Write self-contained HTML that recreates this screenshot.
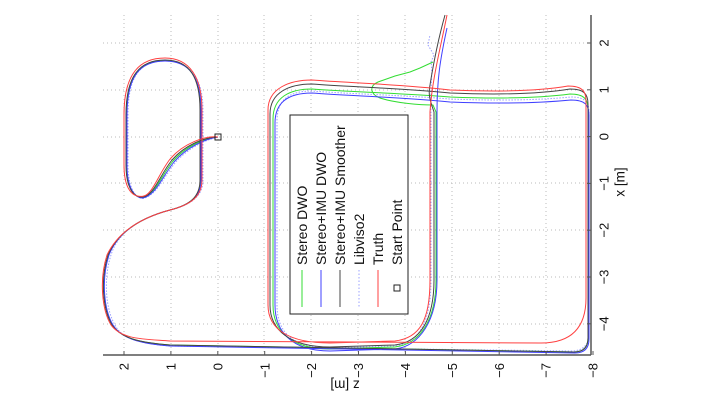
<!DOCTYPE html>
<html><head><meta charset="utf-8"><style>
html,body{margin:0;padding:0;background:#fff;}
svg{display:block;font-family:"Liberation Sans",sans-serif;}
</style></head><body>
<svg id="s" width="720" height="405" viewBox="0 0 720 405" xmlns="http://www.w3.org/2000/svg">
<g id="grid" stroke="#bbb" stroke-width="1" stroke-dasharray="1,3"></g>
<g id="series" fill="none" stroke-width="1"></g>
<rect x="215" y="134" width="6" height="6" fill="none" stroke="#222" stroke-width="1"/>
<g id="axes" stroke="#555" stroke-width="1.5"><line x1="103" y1="355" x2="591" y2="355"/><line x1="591" y1="15" x2="591" y2="355"/></g>
<g id="ticks" stroke="#555" stroke-width="1"></g>
<g id="labels" font-size="13" fill="#111"></g>
<text transform="translate(345,385) rotate(180)" text-anchor="middle" dy="0.35em" font-size="13.5" fill="#111">z [m]</text>
<text transform="translate(620,182) rotate(-90)" text-anchor="middle" dy="0.35em" font-size="13.5" fill="#111">x [m]</text>
<g id="legend">
<rect x="290" y="115" width="118" height="199" fill="#fff" stroke="#222" stroke-width="1"/>
</g>
</svg>
<script>
var NS="http://www.w3.org/2000/svg";
function el(p,t,a,txt){var e=document.createElementNS(NS,t);for(var k in a)e.setAttribute(k,a[k]);if(txt)e.textContent=txt;document.getElementById(p).appendChild(e);return e;}
var xs=[124,171,218,264,311,358,405,452,499,546],ys=[43,90,137,183,230,277,324];
xs.forEach(function(x){el("grid","line",{x1:x,y1:15,x2:x,y2:355});});
ys.forEach(function(y){el("grid","line",{x1:103,y1:y,x2:591,y2:y});});
var zl=["2","1","0","\u22121","\u22122","\u22123","\u22124","\u22125","\u22126","\u22127","\u22128"];
zl.forEach(function(t,i){var x=124+i*46.9;el("ticks","line",{x1:x,y1:355,x2:x,y2:351});
 el("labels","text",{transform:"translate("+x+",363) rotate(-90)","text-anchor":"end",dy:"0.35em"},t);});
var xl=["2","1","0","\u22121","\u22122","\u22123","\u22124"];
xl.forEach(function(t,i){var y=43+i*46.8;el("ticks","line",{x1:591,y1:y,x2:587,y2:y});
 el("labels","text",{transform:"translate(604,"+y+") rotate(-90)","text-anchor":"middle",dy:"0.35em"},t);});
function P(o){
 var R=o.R,T=o.T,cr=o.cr,l=o.l,q=o.q;
 return "M218,137 C205,"+(137+q)+" "+(185+q)+","+(145+q)+" "+(172+q)+","+(160+q)+" C"+(160+q)+","+(175+q)+" "+(154+q)+","+(195)+" 143,"+(197+q/2)+" C"+(132+l)+",198 "+(126+l)+",185 "+(126+l)+",165 L"+(126+l)+",115 C"+(126+l)+","+(75+o.t0)+" 140,"+(60+o.t0)+" 165,"+(60+o.t0)+" C190,"+(60+o.t0)+" "+(200+o.r0)+",78 "+(200+o.r0)+",110 L"+(200+o.r0)+",180 C"+(200+o.r0)+",197 190,205 170,210 C140,218 118,232 "+(108+o.s)+",255 C"+(100+o.s)+",280 "+(103+o.s)+",310 "+(112+o.s)+",325 C122,340 145,"+(o.b1-2)+" 170,"+o.b1+" L"+(R-cr)+","+o.b2+" C"+(R-cr/3)+","+o.b2+" "+R+","+(o.b2-cr/3)+" "+R+","+(o.b2-cr)+" L"+R+","+(T+15)+" C"+R+","+(T+5)+" "+(R-4)+","+T+" "+(R-18)+","+T+" C540,"+(o.tr+3)+" 500,"+(o.tr+4)+" 450,"+(o.tr+2)+" C400,"+(o.tl+4)+" 350,"+(o.tl+3)+" 312,"+o.tl+" C290,"+o.tl+" "+o.IL+","+(o.tl+8)+" "+o.IL+","+(o.tl+30)+" L"+o.IL+",305 C"+o.IL+",330 290,"+o.IB+" 330,"+o.IB+" L395,"+(o.IB-2)+" C420,"+(o.IB-5)+" "+o.IR+",320 "+o.IR+",280 L"+o.IR+",112 "+o.end;
}
var S=[
 {c:"#9aa0ff",w:1,d:"1.5,1.5",l:2,q:3,t0:1,r0:3,s:3,b1:346,b2:351,cr:18,R:589,T:97,tr:97,tl:91,IL:277,IB:348,IR:431,end:"C430,90 433,75 431,62 L434,55 L428,45 L430,35"},
 {c:"#33dd33",w:1,l:0.5,q:1,t0:0.5,r0:0.5,s:0.5,b1:345,b2:352,cr:14,R:588,T:94,tr:95,tl:89,IL:273,IB:349,IR:436,end:"L433,105 C420,105 395,103 380,98 C370,94 369,86 378,82 L395,76 L410,72 L420,68 L433,62"},
 {c:"#4040ff",w:1,l:1,q:2,t0:1,r0:1,s:1,b1:346,b2:353,cr:14,R:589,T:100,tr:100,tl:93,IL:275,IB:351,IR:437,end:"C437,80 440,60 447,28"},
 {c:"#444",w:1,l:0,q:0,t0:0,r0:0,s:0,b1:345,b2:352,cr:14,R:588,T:89,tr:91,tl:84,IL:270,IB:347,IR:434,end:"C430,100 428,95 430,85 C434,60 438,40 445,15"},
 {c:"#ff4040",w:1,l:-2,q:-1.5,t0:-2,r0:2,s:-1,b1:341,b2:343,cr:45,R:586,T:86,tr:88,tl:80,IL:268,IB:343,IR:430,end:"C432,80 440,50 447,15"}
];
S.forEach(function(o){var a={d:P(o),stroke:o.c,"stroke-width":o.w};if(o.d)a["stroke-dasharray"]=o.d;el("series","path",a);});
var L=[["Stereo DWO","#33dd33"],["Stereo+IMU DWO","#4040ff"],["Stereo+IMU Smoother","#444"],["Libviso2","#9aa0ff"],["Truth","#ff4040"],["Start Point",null]];
L.forEach(function(t,i){var x=302+i*19;
 if(t[1]){var a={x1:x,y1:270,x2:x,y2:307,stroke:t[1],"stroke-width":1};if(i==3)a["stroke-dasharray"]="1.5,2";el("legend","line",a);}
 else el("legend","rect",{x:x-3,y:285,width:6,height:6,fill:"none",stroke:"#222"});
 el("legend","text",{transform:"translate("+x+",265) rotate(-90)",dy:"0.36em","font-size":"14",fill:"#111"},t[0]);});
</script>
</body></html>
